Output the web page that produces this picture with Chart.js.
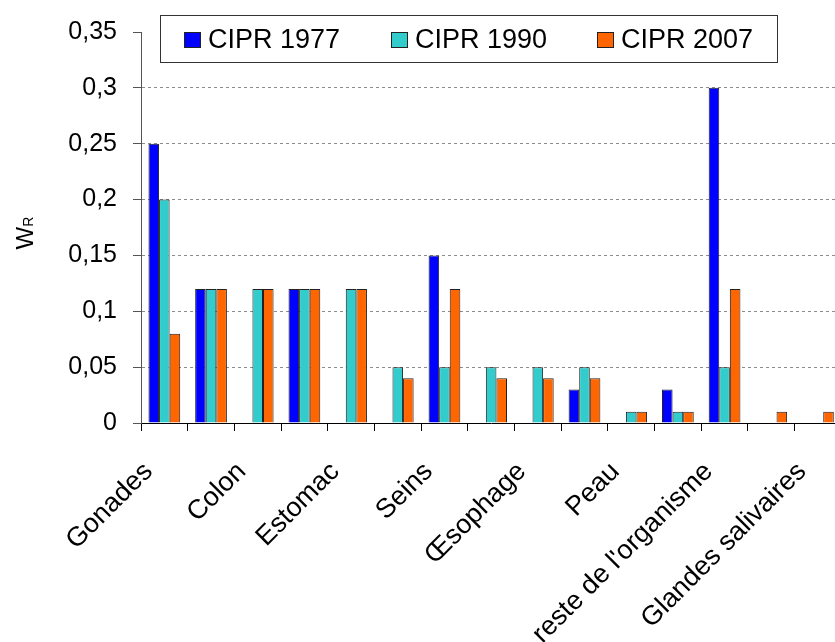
<!DOCTYPE html>
<html>
<head>
<meta charset="utf-8">
<script src="https://cdn.jsdelivr.net/npm/chart.js@4"></script>
<style>
  body { margin: 0; overflow: hidden; background: #fff; }
  canvas { display: block; }
</style>
</head>
<body>
<canvas id="mycanvas" width="850" height="642"></canvas>
<script>
var categories = ['Gonades', 'Moelle osseuse', 'Colon', 'Poumons', 'Estomac', 'Vessie', 'Seins', 'Foie',
    '\u0152sophage', 'Thyro\u00efde', 'Peau', 'Surface osseuse', "reste de l'organisme", 'Cerveau', 'Glandes salivaires'];
var cipr1977 = [0.25, 0.12, null, 0.12, null, null, 0.15, null, null, 0.03, null, 0.03, 0.30, null, null];
var cipr1990 = [0.20, 0.12, 0.12, 0.12, 0.12, 0.05, 0.05, 0.05, 0.05, 0.05, 0.01, 0.01, 0.05, null, null];
var cipr2007 = [0.08, 0.12, 0.12, 0.12, 0.12, 0.04, 0.12, 0.04, 0.04, 0.04, 0.01, 0.01, 0.12, 0.01, 0.01];
var seriesNames = ['CIPR 1977', 'CIPR 1990', 'CIPR 2007'];
var yMax = 0.35;
var yStep = 0.05;

var FONT = 'Arial, "Liberation Sans", sans-serif';

function fmt(v){
    return String(parseFloat(v.toFixed(2))).replace('.', ',');
}

// y axis title: "W" with a small "R", reading bottom to top
var yTitlePlugin = {
    id: 'yTitle',
    afterDraw: function(chart){
        var ctx = chart.ctx;
        ctx.save();
        ctx.translate(33, 233);
        ctx.rotate(-Math.PI / 2);
        ctx.fillStyle = '#000';
        ctx.textAlign = 'left';
        ctx.textBaseline = 'alphabetic';
        ctx.font = '24px ' + FONT;
        var w = ctx.measureText('W').width;
        ctx.font = '14px ' + FONT;
        var r = ctx.measureText('R').width;
        var x0 = -(w + r) / 2;
        ctx.font = '24px ' + FONT;
        ctx.fillText('W', x0, 0);
        ctx.font = '14px ' + FONT;
        ctx.fillText('R', x0 + w, 0);
        ctx.restore();
    }
};

// boxed legend inside the plot
var boxLegendPlugin = {
    id: 'boxLegend',
    afterDraw: function(chart){
        var ctx = chart.ctx;
        ctx.save();
        ctx.fillStyle = '#fff';
        ctx.fillRect(160, 15, 617, 47);
        ctx.strokeStyle = '#333';
        ctx.lineWidth = 1;
        ctx.strokeRect(160.5, 15.5, 617, 47);
        var xs = [184, 391, 597];
        ctx.font = '27px ' + FONT;
        ctx.textAlign = 'left';
        ctx.textBaseline = 'middle';
        chart.data.datasets.forEach(function(ds, i){
            ctx.fillStyle = ds.backgroundColor;
            ctx.fillRect(xs[i], 32, 17, 16);
            ctx.strokeStyle = '#222';
            ctx.strokeRect(xs[i] + 0.5, 32.5, 16, 15);
            ctx.fillStyle = '#000';
            ctx.fillText(ds.label, xs[i] + 24, 41);
        });
        ctx.restore();
    }
};

var chartData = {
    labels: categories,
    datasets: [
        { label: seriesNames[0], data: cipr1977, backgroundColor: '#0000FF' },
        { label: seriesNames[1], data: cipr1990, backgroundColor: '#33CCCC' },
        { label: seriesNames[2], data: cipr2007, backgroundColor: '#FF6600' }
    ]
};
chartData.datasets.forEach(function(ds){
    ds.borderColor = '#222';
    ds.borderWidth = 1;
    ds.barPercentage = 1;
    ds.categoryPercentage = 0.68;
});

var canvas = document.getElementById('mycanvas');
var myChart = new Chart(canvas, {
    type: 'bar',
    data: chartData,
    plugins: [yTitlePlugin, boxLegendPlugin],
    options: {
        responsive: false,
        animation: false,
        layout: { padding: { top: 32, right: 5, left: 0, bottom: 0 } },
        plugins: {
            legend: { display: false },
            title: { display: false },
            tooltip: { enabled: false }
        },
        scales: {
            x: {
                afterFit: function(scale){ scale.height = 219; },
                grid: {
                    display: true,
                    drawOnChartArea: false,
                    drawTicks: true,
                    tickLength: 8,
                    tickColor: '#000',
                    tickWidth: 1
                },
                border: { display: true, color: '#000', width: 1 },
                ticks: {
                    autoSkip: false,
                    maxRotation: 45,
                    minRotation: 45,
                    padding: 9,
                    color: '#000',
                    font: { family: FONT, size: 27 },
                    // only every other category is labelled; trailing spaces nudge the rotated text off the tick
                    callback: function(v, i){ return i % 2 === 0 ? categories[i] + '   ' : ''; }
                }
            },
            y: {
                min: 0,
                max: yMax,
                afterFit: function(scale){ scale.width = 141; },
                grid: {
                    color: function(c){
                        var v = c.tick ? c.tick.value : 0;
                        return (v <= 0 || v >= yMax - 1e-9) ? 'rgba(0,0,0,0)' : '#8c8c8c';
                    },
                    lineWidth: 1,
                    tickLength: 8,
                    tickColor: '#555',
                    tickBorderDash: []
                },
                border: { display: true, color: '#555', width: 1, dash: [3, 3] },
                ticks: {
                    stepSize: yStep,
                    padding: 16,
                    color: '#000',
                    font: { family: FONT, size: 25 },
                    callback: function(v){ return fmt(v); }
                }
            }
        }
    }
});
</script>
</body>
</html>
